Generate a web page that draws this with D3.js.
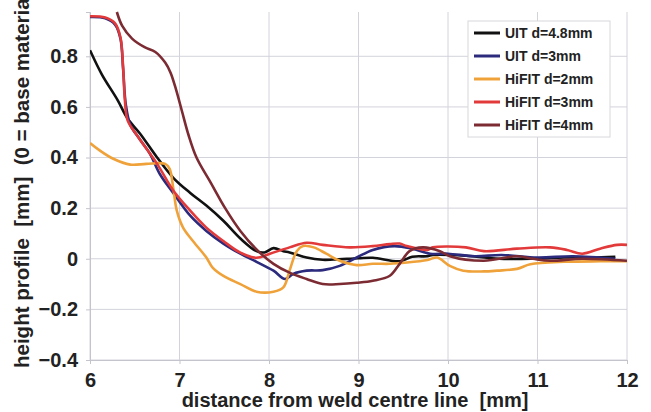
<!DOCTYPE html>
<html>
<head>
<meta charset="utf-8">
<script src="https://cdn.jsdelivr.net/npm/d3@7"></script>
<style>
  body { margin: 0; background: #fff; }
  svg text { font-family: "Liberation Sans", Arial, sans-serif; font-weight: bold; fill: #222; white-space: pre; }
</style>
</head>
<body>
<svg id="chart" width="651" height="412"></svg>
<script>
// distance from weld centre line [mm] / height profile [mm]
const uit48X = [6.0, 6.13, 6.31, 6.42, 6.56, 6.75, 6.93, 7.12, 7.3, 7.49, 7.68, 7.86, 7.95, 8.05, 8.16, 8.23, 8.42, 8.6, 8.72, 9.0, 9.16, 9.46, 9.6, 9.77, 9.83, 10.2, 10.57, 10.95, 11.3, 11.6, 11.87];
const uit48Y = [0.824, 0.73, 0.626, 0.554, 0.494, 0.4, 0.32, 0.26, 0.21, 0.15, 0.08, 0.03, 0.025, 0.042, 0.03, 0.025, 0.005, -0.004, -0.003, 0.002, 0.004, -0.01, 0.008, 0.01, 0.015, 0.012, 0.0, 0.0, 0.005, 0.005, 0.008];

const uit3X = [6.0, 6.17, 6.28, 6.34, 6.37, 6.4, 6.45, 6.56, 6.67, 6.78, 6.93, 7.12, 7.3, 7.49, 7.68, 7.86, 8.05, 8.18, 8.27, 8.42, 8.6, 8.79, 8.98, 9.16, 9.4, 9.6, 9.8, 10.0, 10.3, 10.6, 11.0, 11.4, 11.87];
const uit3Y = [0.955, 0.95, 0.925, 0.87, 0.75, 0.61, 0.53, 0.47, 0.415, 0.335, 0.26, 0.17, 0.11, 0.06, 0.02, -0.012, -0.047, -0.08, -0.06, -0.047, -0.045, -0.028, 0.005, 0.035, 0.05, 0.04, 0.02, 0.02, 0.01, 0.015, 0.005, 0.01, 0.0];

const hifit2X = [6.0, 6.1, 6.26, 6.45, 6.63, 6.84, 6.89, 6.93, 6.97, 7.04, 7.15, 7.3, 7.37, 7.5, 7.68, 7.86, 8.05, 8.16, 8.23, 8.31, 8.38, 8.5, 8.64, 8.79, 8.98, 9.16, 9.35, 9.54, 9.77, 9.88, 10.02, 10.17, 10.4, 10.55, 10.77, 10.92, 11.3, 11.7, 12.0];
const hifit2Y = [0.457, 0.43, 0.395, 0.372, 0.375, 0.375, 0.355, 0.28, 0.19, 0.123, 0.07, 0.005, -0.035, -0.07, -0.1, -0.13, -0.13, -0.113, -0.047, 0.03, 0.05, 0.045, 0.02, -0.008, -0.025, -0.02, -0.02, -0.015, -0.005, 0.005, -0.028, -0.047, -0.05, -0.047, -0.04, -0.022, -0.012, -0.01, -0.01];

const hifit3X = [6.0, 6.17, 6.28, 6.34, 6.37, 6.39, 6.42, 6.54, 6.75, 6.93, 7.12, 7.3, 7.49, 7.68, 7.86, 8.01, 8.23, 8.42, 8.6, 8.9, 9.16, 9.35, 9.46, 9.54, 9.77, 9.83, 10.2, 10.4, 10.77, 11.14, 11.33, 11.5, 11.7, 11.89, 12.0];
const hifit3Y = [0.958, 0.953, 0.93, 0.875, 0.757, 0.626, 0.547, 0.48, 0.375, 0.27, 0.19, 0.123, 0.07, 0.024, 0.004, 0.02, 0.045, 0.063, 0.055, 0.045, 0.05, 0.058, 0.06, 0.05, 0.035, 0.045, 0.045, 0.03, 0.04, 0.045, 0.035, 0.02, 0.04, 0.055, 0.055];

const hifit4X = [6.3, 6.36, 6.47, 6.61, 6.73, 6.84, 6.9, 6.96, 7.03, 7.1, 7.19, 7.35, 7.51, 7.68, 7.88, 8.05, 8.23, 8.42, 8.6, 8.79, 8.98, 9.16, 9.35, 9.46, 9.57, 9.72, 9.91, 10.02, 10.4, 10.77, 10.95, 11.14, 11.5, 12.0];
const hifit4Y = [0.975, 0.92, 0.87, 0.836, 0.817, 0.775, 0.735, 0.67, 0.58, 0.49, 0.4, 0.3, 0.2, 0.11, 0.03, -0.02, -0.055, -0.08, -0.1, -0.1, -0.095, -0.087, -0.067, -0.02, 0.03, 0.045, 0.03, 0.01, -0.008, 0.01, 0.0, -0.008, 0.0, -0.008];

const seriesNames = ["UIT d=4.8mm", "UIT d=3mm", "HiFIT d=2mm", "HiFIT d=3mm", "HiFIT d=4mm"];
const seriesColors = ["#111111", "#2b2a7c", "#f0a23a", "#e23a3a", "#7c2b33"];
const seriesXs = [uit48X, uit3X, hifit2X, hifit3X, hifit4X];
const seriesYs = [uit48Y, uit3Y, hifit2Y, hifit3Y, hifit4Y];

const xTicks = [6, 7, 8, 9, 10, 11, 12];
const yTicks = [-0.4, -0.2, 0, 0.2, 0.4, 0.6, 0.8];

const svg = d3.select('#chart');
const plotLeft = 90, plotRight = 627, plotTop = 12, plotBottom = 360;

const x = d3.scaleLinear().domain([6, 12]).range([plotLeft, plotRight]);
const y = d3.scaleLinear().domain([-0.4, 0.975]).range([plotBottom, plotTop]);

// grid
svg.append('g')
  .selectAll('line')
  .data(xTicks)
  .join('line')
  .attr('x1', d => x(d)).attr('x2', d => x(d))
  .attr('y1', plotTop).attr('y2', plotBottom)
  .attr('stroke', '#d3d3dc').attr('stroke-width', 1);

svg.append('g')
  .selectAll('line')
  .data(yTicks)
  .join('line')
  .attr('x1', plotLeft).attr('x2', plotRight)
  .attr('y1', d => y(d)).attr('y2', d => y(d))
  .attr('stroke', '#d3d3dc').attr('stroke-width', 1);

// axes
const xAxis = svg.append('g')
  .attr('transform', `translate(0,${plotBottom})`)
  .call(d3.axisBottom(x).tickValues(xTicks).tickSize(4).tickPadding(7).tickFormat(d3.format('d')));
const yAxis = svg.append('g')
  .attr('transform', `translate(${plotLeft},0)`)
  .call(d3.axisLeft(y).tickValues(yTicks).tickSize(4).tickPadding(8).tickFormat(d => d === 0 ? '0' : d3.format('.1f')(d)));

[xAxis, yAxis].forEach(a => {
  a.selectAll('.domain').attr('stroke', '#c4c4cc');
  a.selectAll('.tick line').attr('stroke', '#c4c4cc');
  a.selectAll('.tick text').style('font-size', '20px').attr('fill', '#222');
});
xAxis.selectAll('.tick text').attr('dy', '0.8em');

// series
const line = d3.line().x(d => x(d[0])).y(d => y(d[1])).curve(d3.curveCatmullRom.alpha(0.5));
svg.append('defs').append('clipPath').attr('id', 'plotclip')
  .append('rect').attr('x', plotLeft).attr('y', plotTop - 2).attr('width', plotRight - plotLeft + 2).attr('height', plotBottom - plotTop + 2);

const plot = svg.append('g').attr('clip-path', 'url(#plotclip)');
seriesNames.forEach((name, i) => {
  const pts = d3.zip(seriesXs[i], seriesYs[i]);
  plot.append('path')
    .datum(pts)
    .attr('d', line)
    .attr('fill', 'none')
    .attr('stroke', seriesColors[i])
    .attr('stroke-width', 2.6)
    .attr('stroke-linejoin', 'round');
});

// legend
const legend = svg.append('g').attr('transform', 'translate(468,21)');
legend.append('rect')
  .attr('width', 142).attr('height', 116)
  .attr('fill', '#fff').attr('stroke', '#d8d8dc');
seriesNames.forEach((name, i) => {
  const row = legend.append('g').attr('transform', `translate(0,${12 + i * 23})`);
  row.append('line').attr('x1', 6).attr('x2', 32).attr('y1', 0).attr('y2', 0)
    .attr('stroke', seriesColors[i]).attr('stroke-width', 3);
  row.append('text').attr('x', 37).attr('y', 0).attr('dy', '0.35em')
    .style('font-size', '14px').text(name);
});

// axis titles
svg.append('text')
  .attr('x', 355).attr('y', 407)
  .attr('text-anchor', 'middle')
  .style('font-size', '20px')
  .text('distance from weld centre line  [mm]');

svg.append('text')
  .attr('transform', 'translate(22,368) rotate(-90)')
  .attr('dy', '0.35em')
  .style('font-size', '20.5px')
  .text('height profile  [mm]  (0 = base material)');
</script>
</body>
</html>
